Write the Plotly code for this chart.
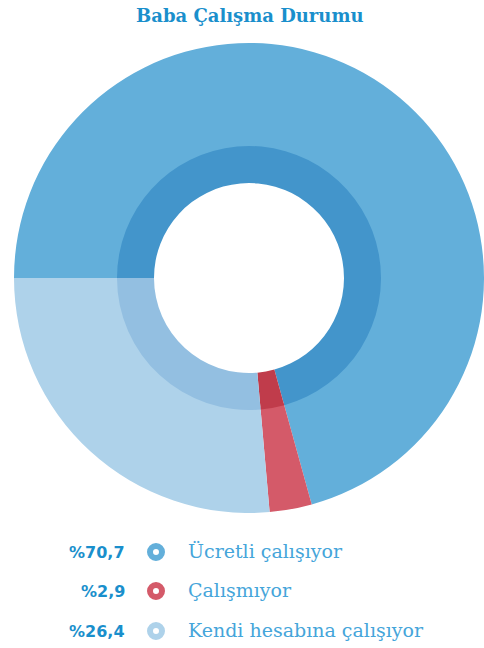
import plotly.graph_objects as go

categories = ["Ücretli çalışıyor", "Çalışmıyor", "Kendi hesabına çalışıyor"]
values = [70.7, 2.9, 26.4]
pct_labels = ["%70,7", "%2,9", "%26,4"]
outer_colors = ["#63AFDA", "#D45A69", "#AED2EA"]
inner_colors = ["#4395CB", "#C03C4B", "#93BFE1"]

W, H = 484, 648
cx, cy, R_out, R_in, R_hole = 249, 278, 235, 132, 95

def dom(r):
    return dict(x=[(cx - r) / W, min(1.0, (cx + r) / W)],
                y=[(H - cy - r) / H, (H - cy + r) / H])

fig = go.Figure()
fig.add_trace(go.Pie(values=values, labels=categories, sort=False, direction="clockwise",
                     rotation=270, hole=(R_in - 2) / R_out, domain=dom(R_out),
                     marker=dict(colors=outer_colors, line=dict(width=0)),
                     textinfo="none", hoverinfo="label+percent", showlegend=False))
fig.add_trace(go.Pie(values=values, labels=categories, sort=False, direction="clockwise",
                     rotation=270, hole=R_hole / R_in, domain=dom(R_in),
                     marker=dict(colors=inner_colors, line=dict(width=0)),
                     textinfo="none", hoverinfo="label+percent", showlegend=False))

row_y = [552, 591, 631]
fig.add_trace(go.Scatter(x=[156] * 3, y=row_y, mode="markers",
                         marker=dict(symbol="circle-open", size=12, color=outer_colors,
                                     line=dict(width=6, color=outer_colors)),
                         hoverinfo="skip", showlegend=False))

annotations = []
for i in range(3):
    annotations.append(dict(x=127, y=row_y[i], xref="x", yref="y", text=pct_labels[i],
                            showarrow=False, xanchor="right", yanchor="middle",
                            font=dict(family="DejaVu Sans", size=16, color="#1A8FCC", weight="bold")))
    annotations.append(dict(x=186, y=row_y[i] - 1, xref="x", yref="y", text=categories[i],
                            showarrow=False, xanchor="left", yanchor="middle",
                            font=dict(family="DejaVu Serif", size=19, color="#45A5DA")))
annotations.append(dict(x=250, y=15, xref="x", yref="y", text="<b>Baba Çalışma Durumu</b>",
                        showarrow=False, xanchor="center", yanchor="middle",
                        font=dict(family="DejaVu Serif", size=18, color="#1A8FCC")))

fig.update_layout(
    width=W, height=H, margin=dict(l=0, r=0, t=0, b=0),
    paper_bgcolor="white", plot_bgcolor="rgba(0,0,0,0)",
    xaxis=dict(range=[0, W], visible=False, fixedrange=True, domain=[0, 1]),
    yaxis=dict(range=[H, 0], visible=False, fixedrange=True, domain=[0, 1]),
    annotations=annotations,
)
fig.write_html("out.html")
